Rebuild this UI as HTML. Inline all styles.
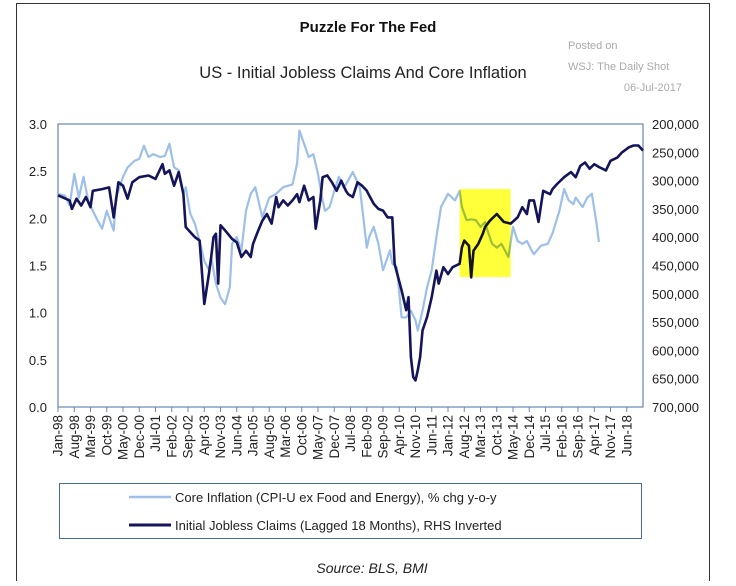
<!DOCTYPE html>
<html><head><meta charset="utf-8">
<style>
html,body{margin:0;padding:0;background:#fff;}
body{width:736px;height:581px;overflow:hidden;font-family:"Liberation Sans",Arial,sans-serif;}
svg text{font-family:"Liberation Sans",Arial,sans-serif;}
</style></head>
<body>
<svg id="chart" width="736" height="581" viewBox="0 0 736 581" xmlns="http://www.w3.org/2000/svg">
  <rect x="16.5" y="3.5" width="693" height="590" fill="#fff" stroke="#333" stroke-width="1"/>
  <text x="368" y="32" text-anchor="middle" font-size="15" font-weight="bold" fill="#111">Puzzle For The Fed</text>
  <text x="363" y="78" text-anchor="middle" font-size="16.5" fill="#222">US - Initial Jobless Claims And Core Inflation</text>
  <text x="568" y="49" font-size="11" fill="#aaa">Posted on</text>
  <text x="568" y="70" font-size="11" fill="#aaa">WSJ: The Daily Shot</text>
  <text x="682" y="91" text-anchor="end" font-size="11" fill="#aaa">06-Jul-2017</text>
  <g id="plot"></g>
  <rect x="59.5" y="483.5" width="582" height="55" fill="#fff" stroke="#4a6a9a" stroke-width="1"/>
  <line x1="129" y1="497" x2="171" y2="497" stroke="#9dbfe8" stroke-width="2.5"/>
  <text x="175" y="502" font-size="13" fill="#222">Core Inflation (CPI-U ex Food and Energy), % chg y-o-y</text>
  <line x1="129" y1="525" x2="171" y2="525" stroke="#14145a" stroke-width="3"/>
  <text x="175" y="530" font-size="13" fill="#222">Initial Jobless Claims (Lagged 18 Months), RHS Inverted</text>
  <text x="372" y="573" text-anchor="middle" font-size="14" font-style="italic" fill="#222">Source: BLS, BMI</text>
</svg>
<script>
// month index since Jan-98
const inflMonths = [0,3,5,7,9,11,13,15,17,19,21,24,25,28,30,33,35,37,39,41,44,46,48,50,52,54,55,57,59,61,63,65,66,68,70,72,74,75,77,79,81,83,85,88,91,94,97,101,103,104,106,108,110,112,114,115,117,119,121,123,124,127,130,133,134,136,138,140,143,144,146,148,150,152,154,155,157,159,161,163,165,168,171,173,174,176,178,180,182,184,185,187,189,191,194,196,198,200,202,204,205,208,211,213,216,218,220,222,223,226,228,230,232,233];
const inflValues = [2.26,2.24,2.14,2.47,2.22,2.44,2.19,2.08,1.98,1.89,2.08,1.87,2.22,2.44,2.54,2.61,2.63,2.77,2.65,2.68,2.65,2.66,2.79,2.54,2.51,2.26,2.33,2.05,1.94,1.76,1.55,1.45,1.59,1.31,1.16,1.09,1.27,1.73,1.80,1.66,2.08,2.26,2.33,2.01,2.22,2.26,2.33,2.36,2.58,2.93,2.79,2.65,2.68,2.47,2.19,2.08,2.12,2.29,2.44,2.33,2.36,2.49,2.33,1.69,1.80,1.91,1.73,1.45,1.66,1.52,1.48,0.95,0.95,1.02,0.92,0.81,1.02,1.27,1.45,1.80,2.12,2.26,2.19,2.29,2.12,1.98,1.99,1.98,1.91,1.96,1.87,1.73,1.69,1.73,1.59,1.91,1.76,1.73,1.76,1.66,1.62,1.71,1.73,1.84,2.08,2.31,2.19,2.15,2.22,2.12,2.22,2.26,1.94,1.75];
const claimsMonths = [0,5,6,8,10,12,14,15,19,22,24,26,28,30,32,35,39,42,45,46,48,50,52,54,55,57,59,61,63,65,66,67,68,69,70,72,75,77,79,81,83,84,86,88,90,92,94,95,97,99,101,103,104,106,108,110,111,113,114,116,118,120,122,124,125,127,129,131,133,134,136,138,140,142,144,145,148,150,151,152,153,154,155,156,157,159,161,163,164,166,168,170,173,174,175,177,178,179,181,183,184,186,189,192,195,198,200,202,203,205,207,209,212,213,215,218,221,223,225,227,229,231,233,236,238,241,243,246,248,250,252];
const claimsValues = [326,335,350,332,344,329,347,318,315,312,365,303,309,332,303,294,291,297,271,288,282,309,285,324,382,391,400,406,518,465,435,400,394,482,379,388,403,409,435,424,435,412,391,371,359,376,329,347,335,344,335,324,338,309,335,329,385,335,294,291,303,318,300,318,324,329,303,309,318,326,341,350,353,365,365,447,494,529,506,612,647,653,635,612,565,541,506,459,482,453,465,453,447,418,406,415,471,424,412,394,382,371,359,373,376,365,347,359,335,335,373,318,324,315,306,294,285,294,274,268,279,271,276,282,265,259,250,241,238,238,247];
const leftTicks = ["0.0","0.5","1.0","1.5","2.0","2.5","3.0"];
const rightTicks = ["200,000","250,000","300,000","350,000","400,000","450,000","500,000","550,000","600,000","650,000","700,000"];
const xLabels = ["Jan-98","Aug-98","Mar-99","Oct-99","May-00","Dec-00","Jul-01","Feb-02","Sep-02","Apr-03","Nov-03","Jun-04","Jan-05","Aug-05","Mar-06","Oct-06","May-07","Dec-07","Jul-08","Feb-09","Sep-09","Apr-10","Nov-10","Jun-11","Jan-12","Aug-12","Mar-13","Oct-13","May-14","Dec-14","Jul-15","Feb-16","Sep-16","Apr-17","Nov-17","Jun-18"];
const highlightStart = 173, highlightEnd = 195;

const NS="http://www.w3.org/2000/svg";
const L=58,R=643,T=124,B=407;
const xS=m=>L+m/252*(R-L);
const yL=v=>B-v/3*(B-T);
const yR=k=>T+(k-200)/500*(B-T);
const g=document.getElementById('plot');
function mk(tag,attrs,parent){const e=document.createElementNS(NS,tag);for(const k in attrs)e.setAttribute(k,attrs[k]);(parent||g).appendChild(e);return e;}

const frame=mk('rect',{x:L,y:T,width:R-L,height:B-T,fill:'#fff',stroke:'#6a86b0','stroke-width':1.2});



leftTicks.forEach((t,i)=>{
  const e=mk('text',{x:47,y:yL(+t)+5,'text-anchor':'end','font-size':13,fill:'#222'});e.textContent=t;
  
  
});
rightTicks.forEach((t,i)=>{
  const e=mk('text',{x:652,y:yR(200+i*50)+5,'font-size':13,fill:'#222'});e.textContent=t;
  
  
});
xLabels.forEach((t,i)=>{
  const x=xS(i*7);
  const tk=mk('line',{x1:x,y1:B,x2:x,y2:B+5,stroke:'#6a86b0','stroke-width':1});
  
  
  const e=mk('text',{x:0,y:0,'text-anchor':'end','font-size':13.5,fill:'#222',transform:`translate(${x+4.5},${B+8}) rotate(-90)`});e.textContent=t;
  
  
});
function path(ms,vs,fy){return ms.map((m,i)=>(i?'L':'M')+xS(m).toFixed(1)+','+fy(vs[i]).toFixed(1)).join(' ');}
const infl=mk('path',{d:path(inflMonths,inflValues,yL),fill:'none',stroke:'#9dbfe8','stroke-width':2.2,'stroke-linejoin':'round'});


const cl=mk('path',{d:path(claimsMonths,claimsValues,yR),fill:'none',stroke:'#14145a','stroke-width':2.6,'stroke-linejoin':'round'});


const hl=mk('rect',{x:xS(highlightStart),y:189,width:xS(highlightEnd)-xS(highlightStart),height:88,fill:'#ffff3a',style:'mix-blend-mode:multiply'});


</script>
</body></html>
